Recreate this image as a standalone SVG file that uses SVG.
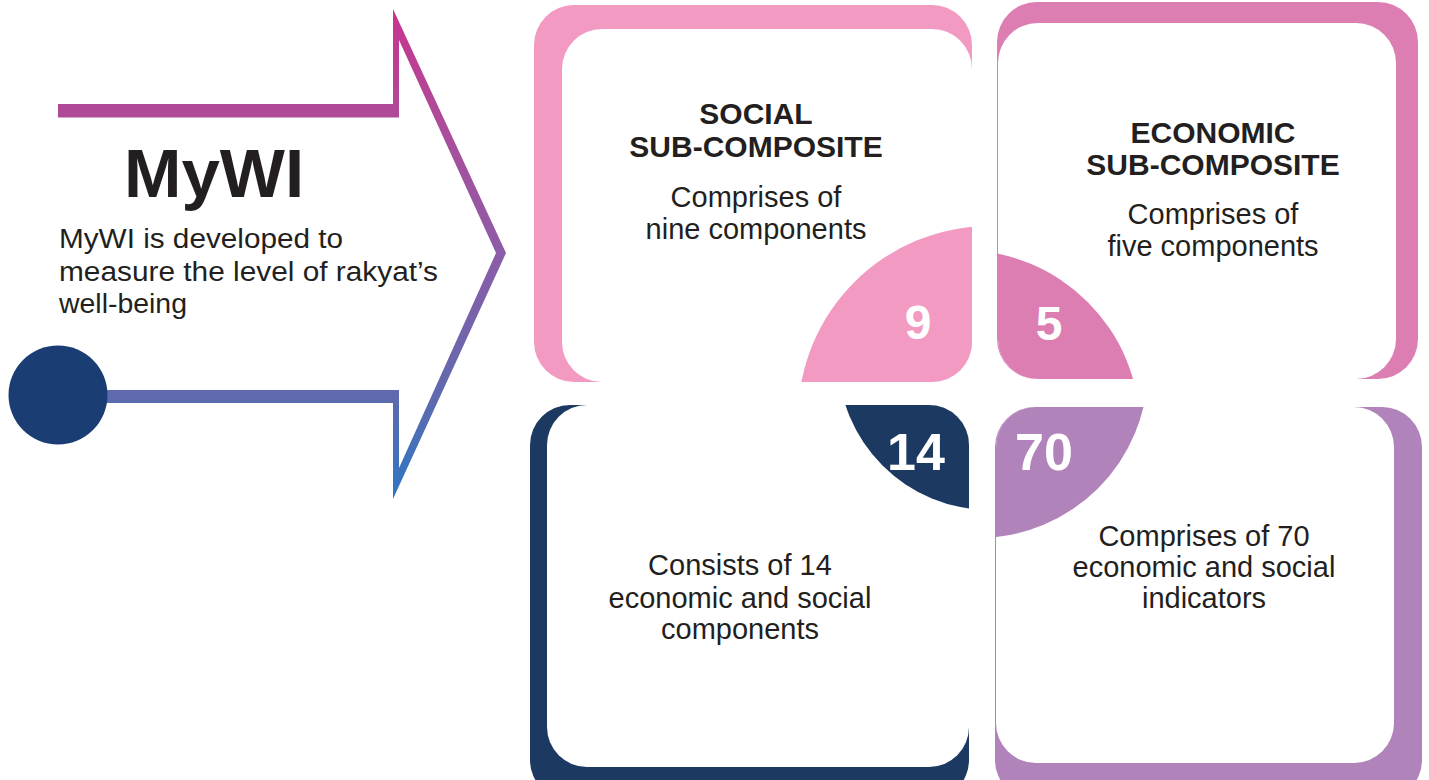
<svg xmlns="http://www.w3.org/2000/svg" width="1429" height="780" viewBox="0 0 1429 780">
  <style>
    text { font-family: "Liberation Sans", Arial, sans-serif; fill: #231f20; }
    .title { font-weight: bold; font-size: 30px; text-anchor: middle; }
    .body { font-size: 29px; text-anchor: middle; }
    .sub { font-size: 27px; }
    .num { font-weight: bold; fill: #ffffff; text-anchor: middle; }
    .white { fill: #ffffff; }
  </style>
  <defs>
    <linearGradient id="arrowGrad" gradientUnits="userSpaceOnUse" x1="0" y1="8" x2="0" y2="499">
      <stop offset="0" stop-color="#c8338d"/>
      <stop offset="0.21" stop-color="#b04a98"/>
      <stop offset="0.5" stop-color="#8c5ca8"/>
      <stop offset="0.79" stop-color="#5f6aae"/>
      <stop offset="1" stop-color="#2c76c3"/>
    </linearGradient>
    <clipPath id="c1"><rect x="562" y="29" width="410" height="353" rx="40"/></clipPath>
    <clipPath id="c2"><rect x="998" y="23" width="398" height="356" rx="40"/></clipPath>
    <clipPath id="c3"><rect x="547" y="405" width="422" height="362" rx="40"/></clipPath>
    <clipPath id="c4"><rect x="996" y="407" width="398" height="356" rx="40"/></clipPath>
  </defs>

  <g id="mywi">
    <path d="M58,104 L393,104 L393,9 L506,253 L393,499 L393,403 L100,403 L100,390 L399,390 L399,468 L496,253 L399,40 L399,117.5 L58,117.5 Z" fill="url(#arrowGrad)"/>
    <circle cx="58" cy="395" r="49.5" fill="#1a3e73"/>
    <text x="214" y="197" font-size="69" font-weight="bold" text-anchor="middle">MyWI</text>
    <text class="sub" x="59" y="248" textLength="284" lengthAdjust="spacingAndGlyphs">MyWI is developed to</text>
    <text class="sub" x="59" y="281" textLength="379" lengthAdjust="spacingAndGlyphs">measure the level of rakyat’s</text>
    <text class="sub" x="59" y="313" textLength="128" lengthAdjust="spacingAndGlyphs">well-being</text>
  </g>

  <g id="social">
    <rect x="534" y="5" width="438" height="377" rx="40" fill="#f39ac2"/>
    <rect class="white" x="562" y="29" width="410" height="353" rx="40"/>
    <circle cx="990" cy="418" r="192" fill="#f39ac2" clip-path="url(#c1)"/>
    <text class="title" x="756" y="124">SOCIAL</text>
    <text class="title" x="756" y="157">SUB-COMPOSITE</text>
    <text class="body" x="756" y="207">Comprises of</text>
    <text class="body" x="756" y="239">nine components</text>
    <text class="num" x="918" y="339" font-size="48">9</text>
  </g>

  <g id="economic">
    <rect x="997" y="2" width="421" height="377" rx="40" fill="#dd7eb3"/>
    <rect class="white" x="998" y="23" width="398" height="356" rx="40"/>
    <circle cx="962" cy="428" r="178" fill="#dd7eb3" clip-path="url(#c2)"/>
    <text class="title" x="1213" y="143">ECONOMIC</text>
    <text class="title" x="1213" y="175">SUB-COMPOSITE</text>
    <text class="body" x="1213" y="224">Comprises of</text>
    <text class="body" x="1213" y="256">five components</text>
    <text class="num" x="1049" y="340" font-size="48">5</text>
  </g>

  <g id="components">
    <rect x="530" y="405" width="439" height="395" rx="40" fill="#1c3961"/>
    <rect class="white" x="547" y="405" width="422" height="362" rx="40"/>
    <circle cx="990" cy="358" r="152" fill="#1c3961" clip-path="url(#c3)"/>
    <text class="body" x="740" y="575">Consists of 14</text>
    <text class="body" x="740" y="608">economic and social</text>
    <text class="body" x="740" y="639">components</text>
    <text class="num" x="916" y="470" font-size="52">14</text>
  </g>

  <g id="indicators">
    <rect x="995" y="407" width="427" height="393" rx="40" fill="#b183bb"/>
    <rect class="white" x="996" y="407" width="398" height="356" rx="40"/>
    <circle cx="978" cy="368" r="170" fill="#b183bb" clip-path="url(#c4)"/>
    <text class="body" x="1204" y="546">Comprises of 70</text>
    <text class="body" x="1204" y="577">economic and social</text>
    <text class="body" x="1204" y="608">indicators</text>
    <text class="num" x="1044" y="470" font-size="52">70</text>
  </g>

  <g id="connectors"></g>
</svg>
